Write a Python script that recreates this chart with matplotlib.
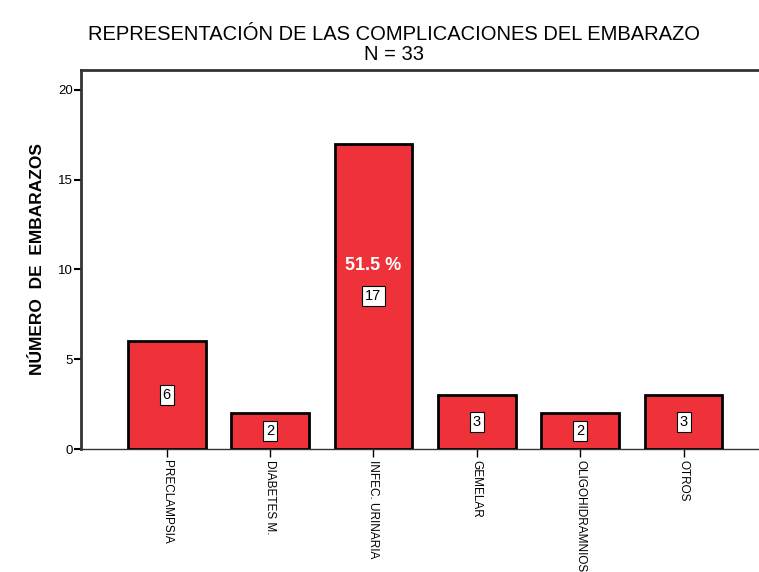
import matplotlib.pyplot as plt

plt.rcParams["font.family"] = ["Liberation Sans", "DejaVu Sans"]

categories = ["PRECLAMPSIA", "DIABETES M.", "INFEC. URINARIA",
              "GEMELAR", "OLIGOHIDRAMNIOS", "OTROS"]
counts = [6, 2, 17, 3, 2, 3]
total_n = 33
y_ticks = [0, 5, 10, 15, 20]

fig = plt.figure(figsize=(7.59, 5.72), dpi=100)
ax = fig.add_axes([81 / 759, 1 - 449 / 572, 1 - 81 / 759, (449 - 70) / 572])

x = list(range(len(categories)))
ax.bar(x, counts, width=0.75, color="#ef323a", edgecolor="black",
       linewidth=2, zorder=3)

# value boxes in the middle of each bar
for xi, v in zip(x, counts):
    ax.text(xi, v / 2, str(v), ha="center", va="center", fontsize=10.5,
            bbox=dict(boxstyle="square,pad=0.2", fc="white", ec="black", lw=0.8),
            zorder=5)

# percentage on the biggest bar
imax = counts.index(max(counts))
pct = max(counts) / total_n * 100
ax.text(imax, 10.2, f"{pct:.1f} %", ha="center", va="center", color="white",
        fontsize=13, fontweight="bold", zorder=5)

ax.set_xlim(-0.83, 5.73)
ax.set_ylim(0, 21.1)
ax.set_yticks(y_ticks)
ax.set_xticks(x)
ax.set_xticklabels(categories, rotation=270, fontsize=8.5, va="top", ha="center")

ax.spines["right"].set_visible(False)
ax.spines["left"].set_linewidth(2)
ax.spines["left"].set_color("#333333")
ax.spines["top"].set_linewidth(2)
ax.spines["top"].set_color("#333333")
ax.spines["bottom"].set_linewidth(1)
ax.spines["bottom"].set_color("#333333")
ax.tick_params(axis="y", length=5, width=1.5, labelsize=9.5, pad=1)
ax.tick_params(axis="x", length=6, width=1, pad=2)

ax.set_ylabel("NÚMERO  DE  EMBARAZOS", fontsize=12.5, fontweight="bold", labelpad=9)

fig.text(394 / 759, 1 - 34 / 572, "REPRESENTACIÓN DE LAS COMPLICACIONES DEL EMBARAZO",
         ha="center", va="center", fontsize=14.5)
fig.text(394 / 759, 1 - 54 / 572, f"N = {total_n}", ha="center", va="center",
         fontsize=14.5)

fig.savefig("out.png", dpi=100)
